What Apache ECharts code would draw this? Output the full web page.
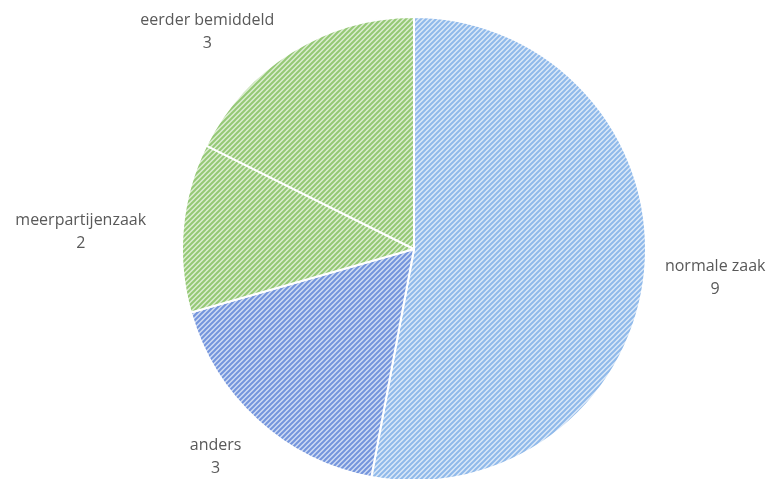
<!DOCTYPE html>
<html>
<head>
<meta charset="utf-8">
<script src="https://cdn.jsdelivr.net/npm/echarts@6/dist/echarts.min.js"></script>
<style>
  html, body { margin: 0; padding: 0; background: #fff; }
  #chart { width: 768px; height: 479px; }
</style>
</head>
<body>
<div id="chart"></div>
<script>
// data
var categories = ['normale zaak', 'anders', 'meerpartijenzaak', 'eerder bemiddeld'];
var counts = [9, 3, 2, 3];

// hatch colours per slice: [stripe, background]
var hatchColors = [
    ['#8fb9ea', '#dae8f8'],
    ['#7394dc', '#cfdbf3'],
    ['#94c875', '#dcedd1'],
    ['#94c875', '#dcedd1']
];
// distance of each label from the rim, plus a small nudge [dx, dy]
var labelGap = [20, 45, 30, 20];
var labelNudge = [[-5, 6], [19, 3], [-2, 7], [-2, -3]];

function hatch(stripe, bg) {
    var size = 5;
    var c = document.createElement('canvas');
    c.width = size;
    c.height = size;
    var ctx = c.getContext('2d');
    ctx.fillStyle = bg;
    ctx.fillRect(0, 0, size, size);
    ctx.strokeStyle = stripe;
    ctx.lineWidth = 2;
    // upward diagonal, drawn with wrap-around so the tile repeats cleanly
    ctx.beginPath();
    ctx.moveTo(-size, size); ctx.lineTo(size, -size);
    ctx.moveTo(0, size); ctx.lineTo(size, 0);
    ctx.moveTo(0, size * 2); ctx.lineTo(size * 2, 0);
    ctx.stroke();
    return { image: c, repeat: 'repeat' };
}

var chartDom = document.getElementById('chart');
var chart = echarts.init(chartDom);

var pieData = categories.map(function (name, i) {
    return {
        name: name,
        value: counts[i],
        itemStyle: { color: hatch(hatchColors[i][0], hatchColors[i][1]) },
        labelLine: { length: labelGap[i] }
    };
});

chart.setOption({
    animation: false,
    series: [{
        type: 'pie',
        center: [414, 249],
        radius: 232,
        startAngle: 90,
        clockwise: true,
        data: pieData,
        itemStyle: { borderColor: '#ffffff', borderWidth: 2 },
        label: {
            show: true,
            position: 'outside',
            formatter: '{b}\n{c}',
            color: '#595959',
            fontFamily: 'Open Sans',
            fontSize: 16,
            lineHeight: 23,
            overflow: 'none'
        },
        labelLine: { show: false, length: 20, length2: 0 },
        labelLayout: function (params) {
            var r = params.labelRect;
            var n = labelNudge[params.dataIndex];
            return {
                x: r.x + r.width / 2 + n[0],
                y: r.y + r.height / 2 + n[1],
                align: 'center',
                verticalAlign: 'middle'
            };
        },
        emphasis: { disabled: true }
    }]
});
</script>
</body>
</html>
